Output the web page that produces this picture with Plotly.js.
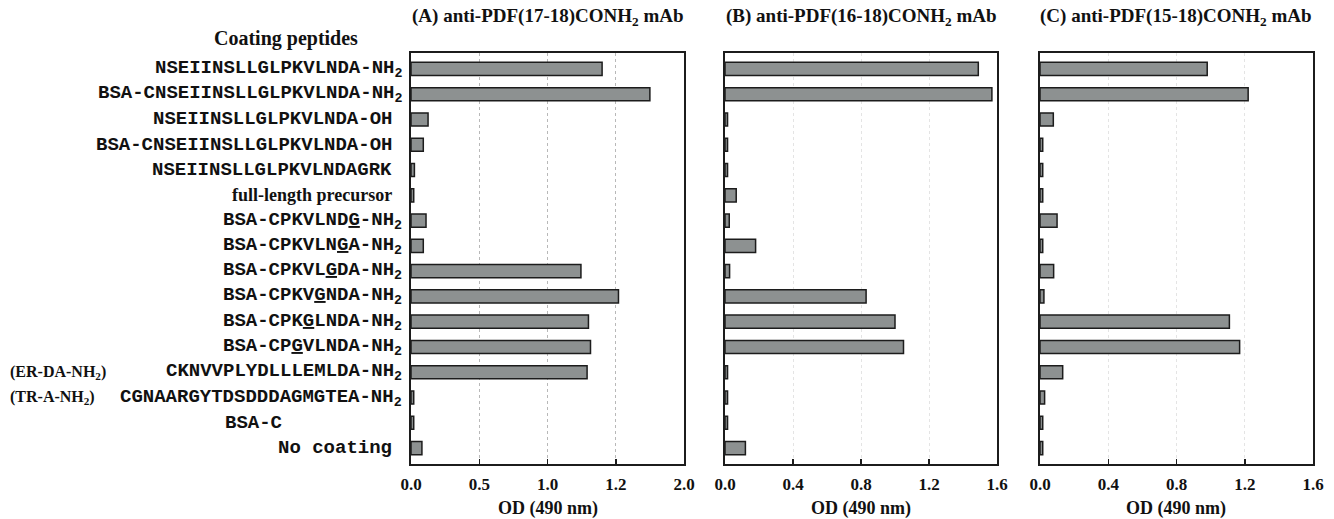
<!DOCTYPE html>
<html>
<head>
<meta charset="utf-8">
<script src="https://cdn.plot.ly/plotly-3.0.1.min.js"></script>
<style>html,body{margin:0;padding:0;background:#fff;}#chart{width:1334px;height:519px;}</style>
</head>
<body>
<div id="chart"></div>
<script>
// ---- data ----
const categories = [
  "NSEIINSLLGLPKVLNDA-NH<sub>2</sub>",
  "BSA-CNSEIINSLLGLPKVLNDA-NH<sub>2</sub>",
  "NSEIINSLLGLPKVLNDA-OH",
  "BSA-CNSEIINSLLGLPKVLNDA-OH",
  "NSEIINSLLGLPKVLNDAGRK",
  "full-length precursor",
  "BSA-CPKVLND<u>G</u>-NH<sub>2</sub>",
  "BSA-CPKVLN<u>G</u>A-NH<sub>2</sub>",
  "BSA-CPKVL<u>G</u>DA-NH<sub>2</sub>",
  "BSA-CPKV<u>G</u>NDA-NH<sub>2</sub>",
  "BSA-CPK<u>G</u>LNDA-NH<sub>2</sub>",
  "BSA-CP<u>G</u>VLNDA-NH<sub>2</sub>",
  "CKNVVPLYDLLLEMLDA-NH<sub>2</sub>",
  "CGNAARGYTDSDDDAGMGTEA-NH<sub>2</sub>",
  "BSA-C",
  "No coating"
];
const prefixLabels = {12: "(ER-DA-NH<sub>2</sub>)", 13: "(TR-A-NH<sub>2</sub>)"};
const seriesA = [1.40, 1.75, 0.125, 0.09, 0.025, 0.02, 0.11, 0.09, 1.245, 1.52, 1.30, 1.315, 1.29, 0.02, 0.02, 0.08];
const seriesB = [1.49, 1.57, 0.015, 0.015, 0.015, 0.066, 0.025, 0.18, 0.027, 0.83, 1.00, 1.05, 0.015, 0.015, 0.015, 0.12];
const seriesC = [0.98, 1.22, 0.078, 0.016, 0.016, 0.016, 0.10, 0.016, 0.08, 0.023, 1.11, 1.17, 0.133, 0.027, 0.016, 0.016];
const panelTitles = [
  "(A) anti-PDF(17-18)CONH<sub>2</sub> mAb",
  "(B) anti-PDF(16-18)CONH<sub>2</sub> mAb",
  "(C) anti-PDF(15-18)CONH<sub>2</sub> mAb"
];
const ticksA = [0, 0.5, 1.0, 1.5, 2.0];
const tickTextA = ["0.0", "0.5", "1.0", "1.2", "2.0"];
const ticksBC = [0, 0.4, 0.8, 1.2, 1.6];
const tickTextBC = ["0.0", "0.4", "0.8", "1.2", "1.6"];
const xTitle = "OD (490 nm)";
const leftHeader = "Coating peptides";

// ---- layout helpers ----
const W = 1334, H = 519;
const px = v => v / W;
const py = v => 1 - v / H;
const serif = "Liberation Serif, Times New Roman, serif";
const mono = "Liberation Mono, Courier New, monospace";
const yDomain = [py(464), py(53)];
const xDomains = [[px(411), px(684)], [px(725), px(997)], [px(1040), px(1313)]];

const barStyle = {color: "#8d9191", line: {color: "#1c1c1c", width: 1.5}};
const series = [seriesA, seriesB, seriesC];
const traces = series.map((s, i) => ({
  type: "bar", orientation: "h",
  x: s, y: categories,
  xaxis: i === 0 ? "x" : "x" + (i + 1),
  yaxis: i === 0 ? "y" : "y" + (i + 1),
  marker: barStyle, width: 0.52,
  hoverinfo: "x+y", showlegend: false
}));

const layout = {
  width: W, height: H,
  margin: {l: 0, r: 0, t: 0, b: 0},
  paper_bgcolor: "#fff", plot_bgcolor: "#fff",
  font: {family: serif, color: "#111"},
  annotations: []
};

for (let i = 0; i < 3; i++) {
  const sx = i === 0 ? "" : String(i + 1);
  layout["xaxis" + sx] = {
    domain: xDomains[i], anchor: "y" + sx,
    range: i === 0 ? [0, 2] : [0, 1.6],
    tickvals: i === 0 ? ticksA : ticksBC,
    ticktext: i === 0 ? tickTextA : tickTextBC,
    tickmode: "array",
    ticks: "inside", ticklen: 5, tickwidth: 1.5, tickcolor: "#1c1c1c",
    tickfont: {family: serif, size: 17, color: "#111", weight: "bold"},
    ticklabelstandoff: 4,
    showline: true, mirror: true, linecolor: "#1c1c1c", linewidth: 2,
    showgrid: true, gridcolor: i === 0 ? "#b8b8b8" : "#e4e4e4", griddash: "dot", gridwidth: 1,
    zeroline: false, automargin: false, fixedrange: true
  };
  layout["yaxis" + sx] = {
    domain: yDomain, anchor: "x" + sx,
    type: "category", categoryorder: "array", categoryarray: categories,
    range: [15.63, -0.63],
    showticklabels: false, ticks: "",
    showline: true, mirror: true, linecolor: "#1c1c1c", linewidth: 2,
    showgrid: false, zeroline: false, automargin: false, fixedrange: true
  };
  // panel title
  layout.annotations.push({
    xref: "paper", yref: "paper",
    x: (xDomains[i][0] + xDomains[i][1]) / 2, y: py(17),
    xanchor: "center", yanchor: "middle", showarrow: false,
    text: "<b>" + panelTitles[i] + "</b>",
    font: {family: serif, size: 19, color: "#111"}
  });
  // x axis title
  layout.annotations.push({
    xref: "paper", yref: "paper",
    x: (xDomains[i][0] + xDomains[i][1]) / 2, y: py(508),
    xanchor: "center", yanchor: "middle", showarrow: false,
    text: "<b>" + xTitle + "</b>",
    font: {family: serif, size: 18, color: "#111"}
  });
}

// header
layout.annotations.push({
  xref: "paper", yref: "paper", x: px(286), y: py(38),
  xanchor: "center", yanchor: "middle", showarrow: false,
  text: "<b>" + leftHeader + "</b>",
  font: {family: serif, size: 20, color: "#111"}
});

// category labels
categories.forEach((c, k) => {
  const isSerif = c.indexOf("full-length") === 0;
  const endsSub = c.slice(-6) === "</sub>";
  const leftAligned = c === "BSA-C";
  layout.annotations.push({
    xref: "paper", yref: "y", y: c,
    x: leftAligned ? px(223) : px(endsSub ? 404 : 394),
    xanchor: leftAligned ? "left" : "right", yanchor: "middle",
    showarrow: false,
    text: "<b>" + c + "</b>",
    font: {family: isSerif ? serif : mono, size: isSerif ? 18 : 19, color: "#111"}
  });
  if (prefixLabels[k]) {
    layout.annotations.push({
      xref: "paper", yref: "y", y: c, x: px(8),
      xanchor: "left", yanchor: "middle", showarrow: false,
      text: "<b>" + prefixLabels[k] + "</b>",
      font: {family: serif, size: 16, color: "#111"}
    });
  }
});

Plotly.newPlot("chart", traces, layout, {displayModeBar: false, staticPlot: true});
</script>
</body>
</html>
